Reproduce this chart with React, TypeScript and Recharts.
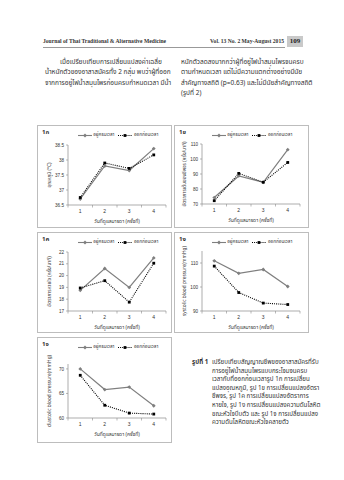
import React from "react";
import { LineChart, Line, XAxis, YAxis } from "recharts";

// categories: follow-up visit number
const days = [1, 2, 3, 4];
const dayTicks = [0.5, 1, 1.5, 2, 2.5, 3, 3.5, 4, 4.5];
const seriesNames = ["อยู่ครบเวลา", "ออกก่อนเวลา"];
const xTitle = "วันที่ดูแลมารดา (ครั้งที่)";

// 1ก temperature
const tempFull = [36.7, 37.8, 37.65, 38.38];
const tempEarly = [36.75, 37.9, 37.72, 38.17];
const tempTicks = [36.5, 37, 37.5, 38, 38.5];

// 1ข pulse
const pulseFull = [74.3, 88.7, 84.5, 106.2];
const pulseEarly = [72.2, 90.4, 84.5, 97.7];
const pulseTicks = [70, 80, 90, 100, 110];

// 1ค respiration
const respFull = [18.75, 20.6, 19.0, 21.5];
const respEarly = [18.95, 19.57, 17.75, 21.05];
const respTicks = [17, 18, 19, 20, 21, 22];

// 1ง systolic
const sbpFull = [110.9, 105.7, 107.3, 100.2];
const sbpEarly = [108.7, 97.7, 93.3, 92.7];
const sbpTicks = [90, 100, 110];

// 1จ diastolic
const dbpFull = [70, 65.8, 66.3, 62.5];
const dbpEarly = [68.7, 62.6, 61.0, 60.8];
const dbpTicks = [60, 65, 70];

const leftLines = [
  "เมื่อเปรียบเทียบการเปลี่ยนแปลงค่าเฉลี่ย",
  "น้ำหนักตัวของอาสาสมัครทั้ง 2 กลุ่ม พบว่าผู้ที่ออก",
  "จากการอยู่ไฟน้ำสมุนไพรก่อนครบกำหนดเวลา มีน้ำ",
];
const rightLines = [
  "หนักตัวลดลงมากกว่าผู้ที่อยู่ไฟน้ำสมุนไพรจนครบ",
  "ตามกำหนดเวลา แต่ไม่มีความแตกต่างอย่างมีนัย",
  "สำคัญทางสถิติ (p=0.63) และไม่มีนัยสำคัญทางสถิติ",
  "(รูปที่ 2)",
];
const captionLines = [
  "เปรียบเทียบสัญญาณชีพของอาสาสมัครที่รับ",
  "การอยู่ไฟน้ำสมุนไพรแบบกระโจมจนครบ",
  "เวลากับที่ออกก่อนเวลารูป 1ก การเปลี่ยน",
  "แปลงอุณหภูมิ, รูป 1ข การเปลี่ยนแปลงอัตรา",
  "ชีพจร, รูป 1ค การเปลี่ยนแปลงอัตราการ",
  "หายใจ, รูป 1ง การเปลี่ยนแปลงความดันโลหิต",
  "ขณะหัวใจบีบตัว และ รูป 1จ การเปลี่ยนแปลง",
  "ความดันโลหิตขณะหัวใจคลายตัว",
];

const TH = "'Noto Sans Thai', 'Loma', 'Garuda', 'Tlwg Typo', 'Noto Sans', 'DejaVu Sans', sans-serif";
const SANS = "'Liberation Sans', Arial, sans-serif";
const INK = "#333";
const AXIS = "#8a8a8a";
const GRAY = "#7f7f7f";

const Diamond = (p: any) => {
  const { cx, cy } = p;
  if (cx == null || cy == null) return null;
  const r = 1.9;
  return <polygon points={`${cx},${cy - r} ${cx + r},${cy} ${cx},${cy + r} ${cx - r},${cy}`} fill={GRAY} />;
};
const Square = (p: any) => {
  const { cx, cy } = p;
  if (cx == null || cy == null) return null;
  return <rect x={cx - 1.4} y={cy - 1.4} width={2.8} height={2.8} fill="#000" />;
};

// x ticks: labels at whole visits, short marks between categories
const DayTick = (p: any) => {
  const { x, y, payload } = p;
  const v = payload.value;
  if (v % 1 !== 0) return <line x1={x} x2={x} y1={y - 4} y2={y - 1.5} stroke={AXIS} strokeWidth={0.6} />;
  return (
    <text x={x} y={y + 4} textAnchor="middle" fontSize={5} fontFamily={SANS} fill={INK}>
      {v}
    </text>
  );
};

function LegendIcon({ dotted }: { dotted: boolean }) {
  return (
    <svg width={14} height={5} style={{ display: "block" }}>
      <line x1={0} x2={14} y1={2.5} y2={2.5} stroke={dotted ? "#000" : GRAY} strokeWidth={1.1}
        strokeDasharray={dotted ? "1 1.1" : undefined} />
      {dotted ? <rect x={5.6} y={1.1} width={2.8} height={2.8} fill="#000" />
        : <polygon points="7,0.6 8.9,2.5 7,4.4 5.1,2.5" fill={GRAY} />}
    </svg>
  );
}

interface PanelProps {
  tag: string;
  left: number; top: number; width: number; height: number;
  full: number[]; early: number[];
  domain: [number, number]; ticks: number[];
  yTitle: string; yTitleX: number;
  margin: { top: number; right: number; bottom: number; left: number };
}

const X_H = 12;
const Y_W = 14;

function Panel(props: PanelProps) {
  const { tag, left, top, width, height, full, early, domain, ticks, yTitle, yTitleX, margin } = props;
  const data = days.map((d, i) => ({ day: d, full: full[i], early: early[i] }));
  const m = { ...margin, left: margin.left - Y_W, bottom: margin.bottom - X_H };
  const plotCx = margin.left + (width - margin.left - margin.right) / 2;
  return (
    <div style={{ position: "absolute", left, top, width, height, border: "0.8px solid #bdbdbd", boxSizing: "border-box" }}>
      <div style={{ position: "absolute", left: 4, top: 3, fontSize: 6, fontWeight: 700, fontFamily: TH, color: INK, lineHeight: "8px" }}>{tag}</div>
      <div style={{ position: "absolute", top: 6, left: plotCx - 60, width: 120, display: "flex", justifyContent: "center", alignItems: "center", gap: 4, fontFamily: TH, fontSize: 4.6, color: INK, lineHeight: "6px" }}>
        {seriesNames.map((n, i) => (
          <div key={n} style={{ display: "flex", alignItems: "center", gap: 1.5 }}>
            <LegendIcon dotted={i === 1} />
            <span>{n}</span>
          </div>
        ))}
      </div>
      <div style={{ position: "absolute", left: 0, top: 0 }}>
        <LineChart width={width - 2} height={height - 2} data={data} margin={m}>
          <XAxis
            dataKey="day" type="number" domain={[0.5, 4.5]} ticks={dayTicks} interval={0}
            height={X_H} tickLine={false} tickSize={2} tickMargin={2} tick={<DayTick />}
            axisLine={{ stroke: AXIS, strokeWidth: 0.7 }}
            label={{
              content: (lp: any) => {
                const vb = lp.viewBox;
                return (
                  <text x={vb.x + vb.width / 2} y={vb.y + 18} textAnchor="middle" fontSize={5} fontFamily={TH} fill={INK}>
                    {xTitle}
                  </text>
                );
              },
            }}
          />
          <YAxis
            type="number" domain={domain} ticks={ticks} interval={0} width={Y_W} allowDataOverflow
            tickSize={2} tickMargin={2} tickLine={{ stroke: AXIS, strokeWidth: 0.6 }}
            axisLine={{ stroke: AXIS, strokeWidth: 0.7 }}
            tick={{ fontSize: 4.6, fontFamily: SANS, fill: INK }}
            label={{
              content: (lp: any) => {
                const vb = lp.viewBox;
                const cy = vb.y + vb.height / 2;
                return (
                  <text x={yTitleX} y={cy} transform={`rotate(-90 ${yTitleX} ${cy})`} textAnchor="middle"
                    dominantBaseline="central" fontSize={4.8} fontFamily={TH} fill={INK}>
                    {yTitle}
                  </text>
                );
              },
            }}
          />
          <Line dataKey="full" stroke={GRAY} strokeWidth={1.2} dot={<Diamond />} isAnimationActive={false} />
          <Line dataKey="early" stroke="#000" strokeWidth={1.1} strokeDasharray="1 1.1" dot={<Square />} isAnimationActive={false} />
        </LineChart>
      </div>
    </div>
  );
}

function TextLine({ text, style }: { text: string; style: React.CSSProperties }) {
  return <div style={{ position: "absolute", whiteSpace: "nowrap", ...style }}>{text}</div>;
}

export default function App() {
  const bodyFont: React.CSSProperties = { fontFamily: TH, fontSize: 6.5, color: INK, lineHeight: "8px" };
  return (
    <div style={{ position: "fixed", left: 0, top: 0, width: 344, height: 480, background: "#fff", overflow: "hidden" }}>
      {/* running header */}
      <div style={{ position: "absolute", left: 43, top: 38, fontFamily: "'Liberation Serif', serif", fontWeight: 700, fontSize: 5.6, color: INK, lineHeight: "7px" }}>
        Journal of Thai Traditional &amp; Alternative Medicine
      </div>
      <div style={{ position: "absolute", right: 344 - 284, top: 38, fontFamily: "'Liberation Serif', serif", fontWeight: 700, fontSize: 5.6, color: INK, lineHeight: "7px" }}>
        Vol. 13 No. 2 May-August 2015
      </div>
      <div style={{ position: "absolute", left: 287, top: 36, width: 16, height: 11, background: "#c9c9c9", fontFamily: "'Liberation Serif', serif", fontWeight: 700, fontSize: 7, color: "#222", lineHeight: "11px", textAlign: "center" }}>
        109
      </div>
      <div style={{ position: "absolute", left: 43, top: 46.5, width: 242, height: 0, borderTop: "0.7px solid #999" }} />

      {/* body text */}
      {leftLines.map((t, i) => (
        <TextLine key={t} text={t} style={{ ...bodyFont, left: i === 0 ? 60 : 45, top: 57.5 + i * 10.5 }} />
      ))}
      {rightLines.map((t, i) => (
        <TextLine key={t} text={t} style={{ ...bodyFont, left: 181, top: 57.5 + i * 10.5 }} />
      ))}

      <Panel tag="1ก" left={37} top={125} width={135} height={103} full={tempFull} early={tempEarly}
        domain={[36.5, 38.5]} ticks={tempTicks} yTitle="อุณหภูมิ (°C)" yTitleX={11}
        margin={{ top: 19, right: 5, bottom: 22, left: 30 }} />
      <Panel tag="1ข" left={174} top={125} width={135} height={103} full={pulseFull} early={pulseEarly}
        domain={[70, 110]} ticks={pulseTicks} yTitle="อัตราการเต้นของชีพจร (ครั้ง/นาที)" yTitleX={9}
        margin={{ top: 18, right: 8, bottom: 23, left: 27 }} />
      <Panel tag="1ค" left={37} top={232} width={135} height={101} full={respFull} early={respEarly}
        domain={[17, 22]} ticks={respTicks} yTitle="อัตราการหายใจ (ครั้ง/นาที)" yTitleX={11}
        margin={{ top: 19, right: 5, bottom: 21, left: 30 }} />
      <Panel tag="1ง" left={174} top={232} width={135} height={101} full={sbpFull} early={sbpEarly}
        domain={[90, 115]} ticks={sbpTicks} yTitle="systolic blood pressure(mmHg)" yTitleX={9}
        margin={{ top: 18, right: 8, bottom: 21, left: 27 }} />
      <Panel tag="1จ" left={37} top={337} width={135} height={106} full={dbpFull} early={dbpEarly}
        domain={[60, 71]} ticks={dbpTicks} yTitle="diastolic blood pressure(mmHg)" yTitleX={11}
        margin={{ top: 26, right: 5, bottom: 24, left: 30 }} />

      {/* caption */}
      <div style={{ position: "absolute", left: 192, top: 358, ...bodyFont, fontSize: 6.2, fontWeight: 700 }}>รูปที่ 1</div>
      {captionLines.map((t, i) => (
        <TextLine key={t} text={t} style={{ ...bodyFont, fontSize: 6.2, left: 212, top: 358 + i * 8.6 }} />
      ))}
    </div>
  );
}
